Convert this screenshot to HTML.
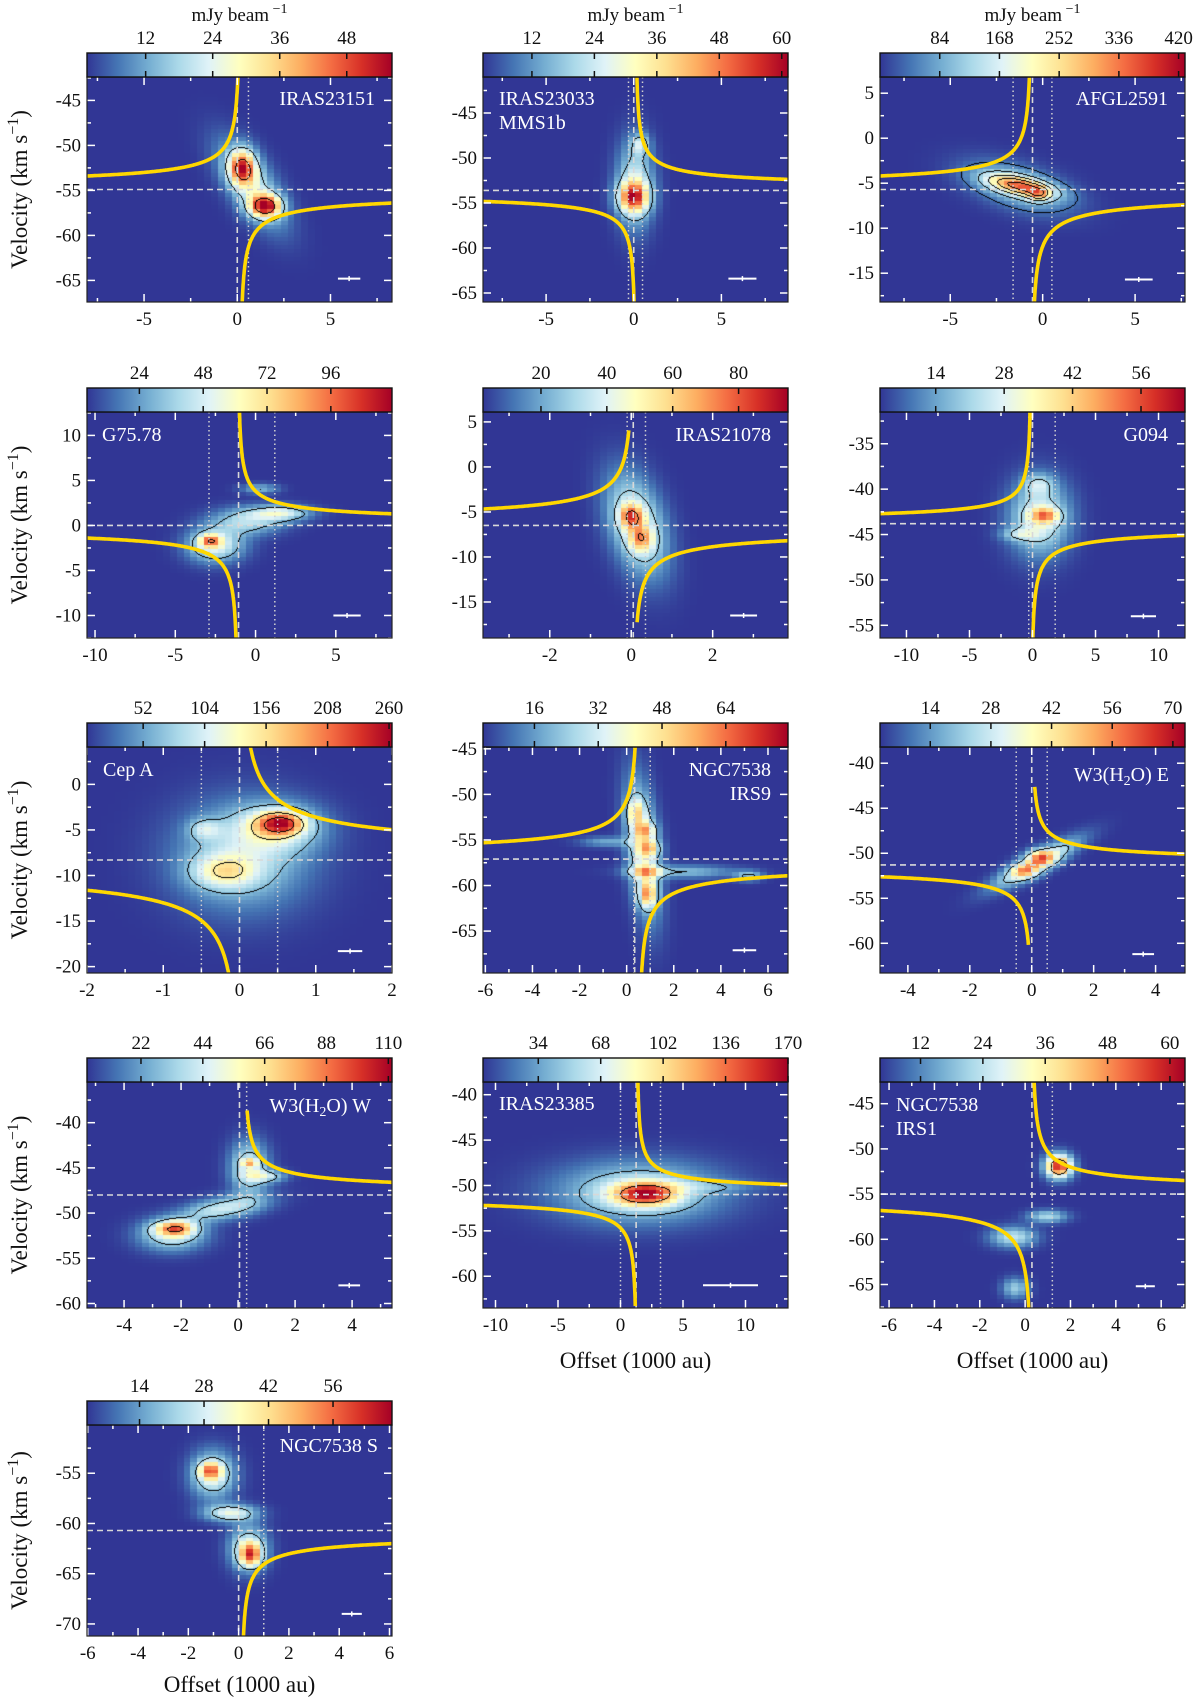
<!DOCTYPE html>
<html><head><meta charset="utf-8">
<style>
html,body{margin:0;padding:0;background:#fff;width:1200px;height:1702px;overflow:hidden;}
#fig{position:relative;width:1200px;height:1702px;overflow:hidden;background:#fff;}
canvas{position:absolute;}
svg{position:absolute;left:0;top:0;}
text{font-family:"Liberation Serif",serif;}
</style></head>
<body>
<div id="fig">
<svg id="ov" width="1200" height="1702"></svg>
</div>
<script>
// ---- data: source names ----
const sourceNames = ["IRAS23151","IRAS23033 MMS1b","AFGL2591","G75.78","IRAS21078","G094","Cep A","NGC7538 IRS9","W3(H2O) E","W3(H2O) W","IRAS23385","NGC7538 IRS1","NGC7538 S"];
// systemic velocities (km/s)
const vsysValues = [-54.9,-53.6,-5.7,0,-6.5,-43.8,-8.3,-57.1,-51.3,-48,-51,-55,-60.7];
// emission components [offset, velocity, sigmaX, sigmaV, amplitude(mJy/beam), shear]
const blobs_IRAS23151 = [[0.3,-52.5,0.5,1.4,38,0],[1.5,-56.8,0.6,0.9,44,0],[0.8,-54.5,0.9,3.2,20,-0.25]];
const blobs_IRAS23033 = [[0.0,-54.4,0.6,1.2,40,0],[0.1,-53.0,0.7,3.3,22,0],[0.4,-48.5,0.35,0.8,16,0]];
const blobs_AFGL2591 = [[-1.2,-5.3,1.1,0.9,240,-0.8],[-0.2,-6.3,0.4,0.6,120,0],[-1.3,-5.5,1.6,1.9,120,-0.5]];
const blobs_G7578 = [[-2.8,-1.7,0.45,0.5,55,0],[-2.5,-2.2,1.2,1.3,50,0],[-0.5,0.4,1.5,1.0,35,0],[1.6,1.3,1.3,0.6,45,0],[0.3,4.0,0.8,0.4,25,0]];
const blobs_IRAS21078 = [[0.0,-5.5,0.2,0.9,45,0],[0.25,-8.0,0.2,1.0,35,0],[0.15,-6.5,0.45,3.8,42,-0.05]];
const blobs_G094 = [[1.0,-43.0,0.8,0.6,28,0],[0.6,-43.2,1.6,2.8,26,0],[-1.0,-45.0,1.0,0.5,14,0],[0.5,-39.5,0.8,0.8,14,0]];
const blobs_CepA = [[0.55,-4.3,0.22,0.9,150,0],[0.5,-4.8,0.4,1.8,85,0],[-0.45,-5.0,0.15,0.8,60,0],[-0.2,-9.6,0.3,1.3,90,0],[0.05,-8.0,0.6,4.0,80,0]];
const blobs_IRS9 = [[0.7,-56.0,0.45,5.0,35,-0.04],[0.4,-52.0,0.25,1.0,25,0],[0.8,-54.0,0.3,0.6,28,0],[1.0,-56.0,0.3,0.6,28,0],[0.9,-61.0,0.25,1.0,38,0],[0.8,-58.5,0.5,0.4,22,0],[2.5,-58.5,1.5,0.5,18,0],[-0.8,-55.3,0.8,0.4,15,0],[5.2,-59.0,0.4,0.4,20,0]];
const blobs_W3E = [[0.15,-51.2,0.45,1.8,35,0.44],[0.3,-50.5,0.3,0.6,30,0],[-0.2,-52.0,0.3,0.6,25,0]];
const blobs_W3W = [[-2.2,-51.7,0.5,0.6,60,0],[-2.3,-52.5,0.8,1.2,40,0],[-0.5,-49.5,0.9,1.0,40,0.5],[0.4,-44.5,0.2,0.3,40,0],[0.4,-45.0,0.45,2.0,42,0],[1.0,-46.0,0.5,0.5,32,0]];
const blobs_IRAS23385 = [[2.0,-51.0,1.8,0.9,110,0],[1.5,-50.8,4.5,2.3,60,0],[7.0,-50.2,3.0,0.5,20,0]];
const blobs_IRS1 = [[1.5,-52.0,0.4,0.9,55,0],[-0.5,-59.8,0.7,0.8,20,0],[1.0,-57.5,0.6,0.5,18,0],[-0.4,-65.5,0.4,0.8,16,0]];
const blobs_N7538S = [[-1.1,-54.8,0.3,0.6,32,0],[-1.0,-55.2,0.6,1.6,28,0],[-0.3,-59.0,0.7,0.6,28,0],[0.5,-63.2,0.3,0.8,38,0],[0.4,-62.5,0.5,1.5,28,0]];
const allBlobs = [blobs_IRAS23151,blobs_IRAS23033,blobs_AFGL2591,blobs_G7578,blobs_IRAS21078,blobs_G094,blobs_CepA,blobs_IRS9,blobs_W3E,blobs_W3W,blobs_IRAS23385,blobs_IRS1,blobs_N7538S];
// contour levels (mJy/beam)
const contourLevels = [[16,42],[14],[40,110,180,250,320,390],[25,95],[25,72],[18],[60,140,210],[18],[18],[28,85],[35,115],[35],[17]];
// Keplerian curves: x0 and branches [side, sign, A, limit]
const kepX0 = [0.15,0.1,-0.6,-1.1,0.05,-0.1,0,0.5,0,0.2,1.3,0.3,0.1];
const kepBranches = [
 [[-1,1,4.3,99],[1,-1,4.3,99]],
 [[1,1,3.6,99],[-1,-1,3.6,99]],
 [[-1,1,4.3,99],[1,-1,4.9,99]],
 [[1,1,4.0,99],[-1,-1,4.3,99]],
 [[-1,1,3.5,10.7],[1,-1,3.3,10.8]],
 [[-1,1,3.8,99],[1,-1,4.5,99]],
 [[1,1,4.7,99],[-1,-1,4.7,99]],
 [[-1,1,4.6,99],[1,-1,4.6,99]],
 [[1,1,2.7,8.8],[-1,-1,2.9,9.0]],
 [[1,1,3.2,9.5]],
 [[1,1,3.8,99],[-1,-1,4.2,12.3]],
 [[1,1,3.9,99],[-1,-1,4.7,99]],
 [[1,-1,3.2,99]]
];
// dashed / dotted offsets
const dashedOffsets = [[0],[0],[-0.55],[-1.06],[0.05],[0],[0],[0.34],[0],[0.05],[1.25],[0.3],[0]];
const dottedOffsets = [[0.6],[-0.3,0.5],[-1.6,0.5],[-2.9,1.2],[-0.1,0.35],[-0.3,1.8],[-0.5,0.5],[0.3,1.0],[-0.5,0.5],[0.3],[0,3.2],[1.2],[1.0]];
// beam markers [offset, velocity, halfwidth]
const beamMarkers = [[6.0,-64.8,0.6],[6.2,-63.4,0.8],[5.2,-15.7,0.75],[5.7,-10,0.85],[2.76,-16.5,0.33],[8.8,-54,1.0],[1.45,-18.3,0.16],[5.0,-67.1,0.5],[3.6,-61.2,0.35],[3.9,-58,0.38],[8.8,-61,2.2],[5.3,-65.2,0.42],[4.5,-69,0.4]];
// colorbar ranges and ticks
const cbarMin = [1.5,2.6,0,4.3,2.4,2.6,4.5,3.1,2.4,2.8,3.9,4.2,2.6];
const cbarMax = [56.1,61.2,429,119,95,65,262.5,79.6,72.8,111.3,170,62.9,68.8];
const cbarTicks = [[12,24,36,48],[12,24,36,48,60],[84,168,252,336,420],[24,48,72,96],[20,40,60,80],[14,28,42,56],[52,104,156,208,260],[16,32,48,64],[14,28,42,56,70],[22,44,66,88,110],[34,68,102,136,170],[12,24,36,48,60],[14,28,42,56]];
// axis ranges
const xRanges = [[-8.06,8.3],[-8.6,8.8],[-8.8,7.7],[-10.5,8.5],[-3.64,3.85],[-12.1,12.1],[-2,2],[-6.1,6.85],[-4.9,4.95],[-5.3,5.4],[-11,13.4],[-6.4,7.05],[-6.03,6.1]];
const yRanges = [[-67.4,-42.4],[-66,-41],[-18.2,6.8],[-12.5,12.6],[-19,6.1],[-56.4,-31.5],[-20.7,4.1],[-69.6,-44.8],[-63.3,-38.2],[-60.5,-35.5],[-63.5,-38.6],[-67.6,-42.6],[-71.2,-50.2]];
const xMajorStep = [5,5,5,5,2,5,1,2,2,2,5,2,2];
const yMajorStep = [5,5,5,5,5,5,5,5,5,5,5,5,5];

// ---- layout ----
const colLeft=[87,483,880], PW=305;
const rowTop=[77,412,747,1082,1425], rowH=[225,226,226,226,211];
const CBH=24;
const labelSpec=[
 {lines:["IRAS23151"],anchor:"end",x:375,y:105},
 {lines:["IRAS23033","MMS1b"],anchor:"start",x:499,y:105},
 {lines:["AFGL2591"],anchor:"end",x:1168,y:105},
 {lines:["G75.78"],anchor:"start",x:102,y:441},
 {lines:["IRAS21078"],anchor:"end",x:771,y:441},
 {lines:["G094"],anchor:"end",x:1168,y:441},
 {lines:["Cep A"],anchor:"start",x:103,y:776},
 {lines:["NGC7538","IRS9"],anchor:"end",x:771,y:776},
 {lines:["W3(H2O) E"],anchor:"end",x:1169,y:781},
 {lines:["W3(H2O) W"],anchor:"end",x:371,y:1112},
 {lines:["IRAS23385"],anchor:"start",x:499,y:1110},
 {lines:["NGC7538","IRS1"],anchor:"start",x:896,y:1111},
 {lines:["NGC7538 S"],anchor:"end",x:378,y:1452}
];
const cmapStops=[[49,54,149],[69,117,180],[116,173,209],[171,217,233],[224,243,248],[255,255,191],[254,224,144],[253,174,97],[244,109,67],[215,48,39],[165,0,38]];
function cmap(t){t=Math.max(0,Math.min(1,t));const s=t*(cmapStops.length-1);const i=Math.min(Math.floor(s),cmapStops.length-2);const f=s-i;const a=cmapStops[i],b=cmapStops[i+1];return [a[0]+(b[0]-a[0])*f,a[1]+(b[1]-a[1])*f,a[2]+(b[2]-a[2])*f];}
const NS='http://www.w3.org/2000/svg';
const ov=document.getElementById('ov');
const fig=document.getElementById('fig');
function el(tag,attrs,parent){const e=document.createElementNS(NS,tag);for(const k in attrs)e.setAttribute(k,attrs[k]);(parent||ov).appendChild(e);return e;}
function field(bl,x,v){let s=0;for(const b of bl){const xc=b[0]+b[5]*(v-b[1]);const dx=(x-xc)/b[2],dv=(v-b[1])/b[3];s+=b[4]*Math.exp(-0.5*(dx*dx+dv*dv));}return s;}
function fmt(n){return String(n);}

const defs=el('defs',{});
const grad=el('linearGradient',{id:'cbg',x1:'0',x2:'1',y1:'0',y2:'0'},defs);
cmapStops.forEach((c,i)=>{el('stop',{offset:(i/(cmapStops.length-1)),'stop-color':`rgb(${c[0]},${c[1]},${c[2]})`},grad);});

for(let p=0;p<13;p++){
 const col=p<12?p%3:0,row=p<12?Math.floor(p/3):4;
 const L=colLeft[col],T=rowTop[row],H=rowH[row],W=PW;
 const xr=xRanges[p],yr=yRanges[p];
 const X=x=>L+(x-xr[0])/(xr[1]-xr[0])*W;
 const Y=v=>T+(yr[1]-v)/(yr[1]-yr[0])*H;
 const bl=allBlobs[p];
 const cv=document.createElement('canvas');cv.width=W;cv.height=H;cv.style.left=L+'px';cv.style.top=T+'px';
 
 
 fig.insertBefore(cv,ov);
 const ctx=cv.getContext('2d');
 const ncx=44,ncv=56,cw=W/ncx,ch=H/ncv,cmin=cbarMin[p],cmax=cbarMax[p];
 for(let i=0;i<ncx;i++)for(let j=0;j<ncv;j++){
  const x=xr[0]+(i+0.5)/ncx*(xr[1]-xr[0]);const v=yr[1]-(j+0.5)/ncv*(yr[1]-yr[0]);
  const f=field(bl,x,v);const c=cmap(f/(cmax-cmin));
  ctx.fillStyle=`rgb(${c[0]|0},${c[1]|0},${c[2]|0})`;ctx.fillRect(Math.floor(i*cw),Math.floor(j*ch),Math.ceil(cw)+1,Math.ceil(ch)+1);
 }
 const F=new Float32Array(W*H);
 for(let yy=0;yy<H;yy++)for(let xx=0;xx<W;xx++){F[yy*W+xx]=field(bl,xr[0]+(xx+0.5)/W*(xr[1]-xr[0]),yr[1]-(yy+0.5)/H*(yr[1]-yr[0]));}
 const img=ctx.getImageData(0,0,W,H);
 for(const lv of contourLevels[p]){
  for(let yy=1;yy<H-1;yy++)for(let xx=1;xx<W-1;xx++){
   const f=F[yy*W+xx];if(f<lv)continue;
   if(F[yy*W+xx-1]<lv||F[yy*W+xx+1]<lv||F[(yy-1)*W+xx]<lv||F[(yy+1)*W+xx]<lv){const k=(yy*W+xx)*4;img.data[k]=0;img.data[k+1]=0;img.data[k+2]=0;}
  }
 }
 ctx.putImageData(img,0,0);
 const g=el('g',{});
 
 
 const cid='clip'+p;
 const cp=el('clipPath',{id:cid},defs);el('rect',{x:L,y:T,width:W,height:H},cp);
 const vs=vsysValues[p];
 const hl=el('line',{x1:L,x2:L+W,y1:Y(vs),y2:Y(vs),stroke:'#d8d8d8','stroke-width':1.6,'stroke-dasharray':'6,4'},g);
 
 for(const d of dashedOffsets[p]){const l=el('line',{x1:X(d),x2:X(d),y1:T,y2:T+H,stroke:'#d8d8d8','stroke-width':1.6,'stroke-dasharray':'6,4'},g);}
 for(const d of dottedOffsets[p]){const l=el('line',{x1:X(d),x2:X(d),y1:T,y2:T+H,stroke:'#d0d0d0','stroke-width':1.5,'stroke-dasharray':'1.5,3'},g);}
 const x0=kepX0[p];
 for(const br of kepBranches[p]){
  const [side,sign,A,lim]=br;const edge=side>0?xr[1]:xr[0];const dist=Math.abs(edge-x0);
  let pts=[];
  for(let k=0;k<=400;k++){const d=1e-4+dist*Math.pow(k/400,2);const dv=A/Math.sqrt(d);if(dv>lim)continue;const x=x0+side*d,v=vs+sign*dv;pts.push(X(x).toFixed(1)+','+Y(v).toFixed(1));}
  const pl=el('polyline',{points:pts.join(' '),fill:'none',stroke:'#ffd700','stroke-width':3.6,'clip-path':`url(#${cid})`},g);
  
 }
 const bm=beamMarkers[p];
 const bg=el('g',{},g);
 el('line',{x1:X(bm[0]-bm[2]),x2:X(bm[0]+bm[2]),y1:Y(bm[1]),y2:Y(bm[1]),stroke:'#fff','stroke-width':2},bg);
 el('line',{x1:X(bm[0]),x2:X(bm[0]),y1:Y(bm[1])-2.5,y2:Y(bm[1])+2.5,stroke:'#fff','stroke-width':1.5},bg);
 const xs=xMajorStep[p],ysS=yMajorStep[p];
 for(let t=Math.ceil(xr[0]/(xs/2))*(xs/2);t<=xr[1]+1e-9;t+=xs/2){
  const maj=Math.abs(Math.round(t/xs)*xs-t)<1e-6;const len=maj?8:4;const px=X(t);
  el('line',{x1:px,x2:px,y1:T+H,y2:T+H-len,stroke:'#fff','stroke-width':1.5},g);
  el('line',{x1:px,x2:px,y1:T,y2:T+len,stroke:'#fff','stroke-width':1.5},g);
  if(maj){const tx=el('text',{x:px,y:T+H+23,'text-anchor':'middle','font-size':19,fill:'#111'},g);tx.textContent=fmt(Math.round(t*10)/10);}
 }
 for(let t=Math.ceil(yr[0]/(ysS/2))*(ysS/2);t<=yr[1]+1e-9;t+=ysS/2){
  const maj=Math.abs(Math.round(t/ysS)*ysS-t)<1e-6;const len=maj?8:4;const py=Y(t);
  el('line',{x1:L,x2:L+len,y1:py,y2:py,stroke:'#fff','stroke-width':1.5},g);
  el('line',{x1:L+W,x2:L+W-len,y1:py,y2:py,stroke:'#fff','stroke-width':1.5},g);
  if(maj){const tx=el('text',{x:L-6,y:py+6,'text-anchor':'end','font-size':19,fill:'#111'},g);tx.textContent=fmt(Math.round(t));}
 }
 el('rect',{x:L,y:T,width:W,height:H,fill:'none',stroke:'#222','stroke-width':1.2},g);
 const ls=labelSpec[p];
 ls.lines.forEach((ln,i)=>{
  const tx=el('text',{x:ls.x,y:ls.y+i*24,'text-anchor':ls.anchor,'font-size':20,fill:'#fff'},g);
  
  const m=ln.match(/^(.*)H2O(.*)$/);
  if(m){tx.appendChild(document.createTextNode(m[1]+'H'));const s=el('tspan',{'font-size':14,dy:4},tx);s.textContent='2';const o=el('tspan',{dy:-4},tx);o.textContent='O'+m[2];}
  else tx.textContent=ln;
 });
 const cT=T-CBH;
 const cb=el('g',{},g);
 el('rect',{x:L,y:cT,width:W,height:CBH,fill:'url(#cbg)',stroke:'#111','stroke-width':1.4},cb);
 for(const tv of cbarTicks[p]){
  const px=L+(tv-cmin)/(cmax-cmin)*W;
  el('line',{x1:px,x2:px,y1:cT,y2:cT+6,stroke:'#111','stroke-width':1.5},cb);
  el('line',{x1:px,x2:px,y1:cT+CBH,y2:cT+CBH-6,stroke:'#111','stroke-width':1.5},cb);
  const tx=el('text',{x:px,y:cT-9,'text-anchor':'middle','font-size':19,fill:'#111'},cb);tx.textContent=tv;
  
 }
 if(row===0){
  const t=el('text',{x:L+W/2,y:21,'text-anchor':'middle','font-size':19,fill:'#111'},g);
  
  t.appendChild(document.createTextNode('mJy beam'));const s=el('tspan',{dy:-8,'font-size':14},t);s.textContent=' −1';
 }
 if(col===0){
  const cy=T+H/2;
  const t=el('text',{x:0,y:0,transform:`translate(27,${cy}) rotate(-90)`,'text-anchor':'middle','font-size':23,fill:'#111'},g);
  
  t.appendChild(document.createTextNode('Velocity (km s'));const s=el('tspan',{dy:-9,'font-size':16},t);s.textContent='−1';const s2=el('tspan',{dy:9},t);s2.textContent=')';
 }
 if(p===10||p===11||p===12){
  const t=el('text',{x:L+W/2,y:Math.min(T+H+60,1692),'text-anchor':'middle','font-size':23,fill:'#111'},g);
  t.textContent='Offset (1000 au)';
  
 }
}
</script>
</body></html>
